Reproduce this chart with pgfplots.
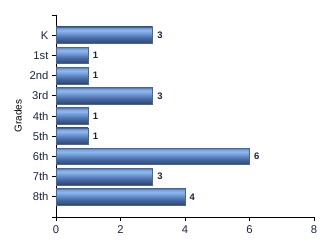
\documentclass[border=0pt]{standalone}
\usepackage{pgfplots}
\pgfplotsset{compat=1.18}
\usepackage{fontspec}
\setmainfont{Liberation Sans}
\definecolor{txt}{HTML}{1A2540}
\definecolor{baredge}{HTML}{4A6690}
\definecolor{bA}{HTML}{2B4570}
\definecolor{bB}{HTML}{486CA8}
\definecolor{bC}{HTML}{8DB8F0}
\definecolor{bD}{HTML}{78A0DE}
\definecolor{bE}{HTML}{5470A0}
\pgfdeclareverticalshading{barshade}{100bp}{%
  color(0bp)=(bA);
  color(25bp)=(bA);
  color(42bp)=(bB);
  color(64bp)=(bC);
  color(71bp)=(bD);
  color(75bp)=(bE);
  color(100bp)=(bE)}
\begin{document}
\begin{tikzpicture}
\path[use as bounding box] (-56bp,-33bp) rectangle (274bp,217bp);
\begin{axis}[
  scale only axis,
  width=258bp, height=202bp,
  xbar, bar shift=0pt,
  xmin=0, xmax=8,
  ymin=0, ymax=10,
  y dir=reverse,
  axis lines*=left,
  axis line style={black, line width=0.8pt},
  xtick={0,2,4,6,8},
  ytick={1,2,3,4,5,6,7,8,9},
  yticklabels={K,1st,2nd,3rd,4th,5th,6th,7th,8th},
  extra y ticks={0,10},
  extra y tick labels={},
  extra y tick style={tick style={black, line width=0.8pt}},
  tick style={black, line width=0.8pt},
  tick align=outside,
  major tick length=4bp,
  tick label style={font=\fontsize{11.3}{13}\selectfont, text=txt},
  /pgf/number format/assume math mode=true,
  xticklabel style={yshift=-1bp},
  ylabel={Grades},
  ylabel style={font=\fontsize{12.5}{14}\selectfont, text=txt},
  every axis y label/.style={at={(axis description cs:0,0.5)}, xshift=-38bp, rotate=90, anchor=center},
  bar width=16.5bp,
  nodes near coords,
  every node near coord/.append style={font=\bfseries\fontsize{9.5}{11}\selectfont, text=txt, xshift=1bp},
  clip=false,
  mybar/.style={draw=baredge, line width=0.6pt, shading=barshade},
]
\addplot[mybar] coordinates {(3,1)};
\addplot[mybar] coordinates {(1,2)};
\addplot[mybar] coordinates {(1,3)};
\addplot[mybar] coordinates {(3,4)};
\addplot[mybar] coordinates {(1,5)};
\addplot[mybar] coordinates {(1,6)};
\addplot[mybar] coordinates {(6,7)};
\addplot[mybar] coordinates {(3,8)};
\addplot[mybar] coordinates {(4,9)};
\end{axis}
\end{tikzpicture}
\end{document}
